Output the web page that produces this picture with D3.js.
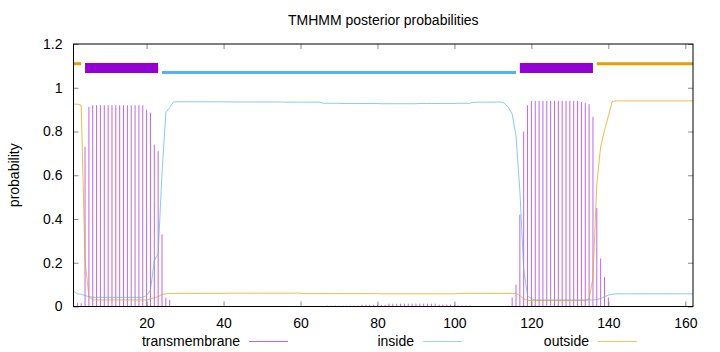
<!DOCTYPE html>
<html>
<head>
<meta charset="utf-8">
<script src="https://cdn.jsdelivr.net/npm/d3@7"></script>
<style>
  body { margin: 0; background: #fff; }
  svg { display: block; font-family: "Liberation Sans", Arial, sans-serif; }
</style>
</head>
<body>
<div id="chart"></div>
<script>
// posterior probabilities per residue (1..162)
const transmembrane = [
  0.012, 0.015, 0.015, 0.73, 0.912, 0.92, 0.92, 0.92, 0.92, 0.92,
  0.92, 0.92, 0.92, 0.92, 0.92, 0.92, 0.92, 0.92, 0.92, 0.90,
  0.886, 0.74, 0.71, 0.33, 0.04, 0.03, 0, 0, 0, 0,
  0, 0, 0, 0, 0, 0, 0, 0, 0, 0,
  0, 0, 0, 0, 0, 0, 0, 0, 0, 0,
  0, 0, 0, 0, 0, 0, 0, 0, 0, 0,
  0, 0.002, 0.002, 0.002, 0.002, 0.002, 0.004, 0.004, 0.004, 0.004,
  0.004, 0.004, 0.004, 0.004, 0.004, 0.008, 0.008, 0.008, 0.008, 0.008,
  0.008, 0.008, 0.013, 0.013, 0.013, 0.013, 0.013, 0.013, 0.013, 0.013,
  0.013, 0.013, 0.013, 0.013, 0.013, 0.009, 0.009, 0.009, 0.009, 0.009,
  0.005, 0.005, 0.005, 0.005, 0.002, 0, 0, 0, 0, 0,
  0, 0, 0, 0.004, 0.042, 0.10, 0.42, 0.80, 0.92, 0.94,
  0.94, 0.94, 0.94, 0.94, 0.94, 0.94, 0.94, 0.94, 0.94, 0.94,
  0.94, 0.94, 0.935, 0.93, 0.925, 0.867, 0.45, 0.22, 0.134, 0.042,
  0, 0, 0, 0, 0, 0, 0, 0, 0, 0,
  0, 0, 0, 0, 0, 0, 0, 0, 0, 0,
  0, 0
];
const inside = [
  0.07, 0.058, 0.056, 0.05, 0.045, 0.042, 0.042, 0.042, 0.042, 0.042,
  0.042, 0.042, 0.042, 0.042, 0.042, 0.042, 0.042, 0.042, 0.042, 0.05,
  0.075, 0.21, 0.24, 0.61, 0.886, 0.91, 0.935, 0.936, 0.936, 0.936,
  0.936, 0.936, 0.936, 0.936, 0.936, 0.936, 0.936, 0.936, 0.936, 0.936,
  0.935, 0.935, 0.935, 0.935, 0.935, 0.935, 0.935, 0.935, 0.935, 0.935,
  0.935, 0.935, 0.935, 0.935, 0.935, 0.934, 0.934, 0.934, 0.934, 0.934,
  0.934, 0.934, 0.934, 0.934, 0.934, 0.929, 0.929, 0.929, 0.929, 0.929,
  0.928, 0.928, 0.928, 0.928, 0.928, 0.928, 0.928, 0.928, 0.928, 0.928,
  0.927, 0.927, 0.927, 0.927, 0.927, 0.927, 0.927, 0.927, 0.927, 0.927,
  0.928, 0.928, 0.928, 0.928, 0.928, 0.928, 0.928, 0.928, 0.928, 0.928,
  0.929, 0.929, 0.929, 0.929, 0.934, 0.934, 0.934, 0.934, 0.934, 0.934,
  0.935, 0.935, 0.93, 0.91, 0.88, 0.78, 0.53, 0.17, 0.05, 0.035,
  0.03, 0.03, 0.03, 0.03, 0.03, 0.03, 0.03, 0.03, 0.03, 0.03,
  0.03, 0.03, 0.03, 0.03, 0.03, 0.03, 0.032, 0.036, 0.045, 0.052,
  0.056, 0.058, 0.058, 0.058, 0.058, 0.058, 0.058, 0.058, 0.058, 0.058,
  0.058, 0.058, 0.058, 0.058, 0.058, 0.058, 0.058, 0.058, 0.058, 0.058,
  0.058, 0.058
];
const outside = [
  0.925, 0.925, 0.92, 0.21, 0.045, 0.03, 0.03, 0.03, 0.03, 0.03,
  0.03, 0.03, 0.03, 0.03, 0.03, 0.03, 0.03, 0.03, 0.03, 0.03,
  0.035, 0.04, 0.045, 0.055, 0.058, 0.06, 0.06, 0.06, 0.06, 0.06,
  0.06, 0.06, 0.06, 0.06, 0.06, 0.06, 0.06, 0.06, 0.06, 0.06,
  0.061, 0.061, 0.061, 0.061, 0.061, 0.061, 0.061, 0.061, 0.061, 0.061,
  0.061, 0.061, 0.061, 0.061, 0.061, 0.061, 0.061, 0.061, 0.061, 0.061,
  0.059, 0.059, 0.059, 0.059, 0.059, 0.059, 0.059, 0.059, 0.059, 0.059,
  0.059, 0.059, 0.059, 0.059, 0.059, 0.059, 0.059, 0.059, 0.059, 0.059,
  0.058, 0.058, 0.058, 0.058, 0.058, 0.058, 0.058, 0.058, 0.058, 0.058,
  0.058, 0.058, 0.058, 0.058, 0.058, 0.058, 0.058, 0.058, 0.058, 0.058,
  0.06, 0.06, 0.06, 0.06, 0.06, 0.06, 0.06, 0.06, 0.06, 0.06,
  0.06, 0.06, 0.06, 0.06, 0.06, 0.06, 0.05, 0.035, 0.028, 0.027,
  0.027, 0.027, 0.027, 0.027, 0.027, 0.027, 0.027, 0.027, 0.027, 0.027,
  0.027, 0.027, 0.027, 0.027, 0.035, 0.13, 0.56, 0.73, 0.805, 0.87,
  0.937, 0.94, 0.94, 0.94, 0.94, 0.94, 0.94, 0.94, 0.94, 0.94,
  0.94, 0.94, 0.94, 0.94, 0.94, 0.94, 0.94, 0.94, 0.94, 0.94,
  0.94, 0.94
];

// predicted topology drawn as bars across the top
const segStart = [1, 4, 24, 117, 137];
const segEnd = [3, 23, 116, 136, 162];
const segType = ['outside', 'transmembrane', 'inside', 'transmembrane', 'outside'];

const xTicks = [20, 40, 60, 80, 100, 120, 140, 160];
const yTicks = [0, 0.2, 0.4, 0.6, 0.8, 1, 1.2];
const seriesNames = ['transmembrane', 'inside', 'outside'];

const colors = { transmembrane: '#9400d3', inside: '#56b4e9', outside: '#e69f00' };
const barLevel = { outside: 1.11, transmembrane: 1.09, inside: 1.07 };
const barWidth = { outside: 3, transmembrane: 10, inside: 3 };

const W = 720, H = 352;
const plot = { left: 73.5, right: 693, top: 44, bottom: 306.5 };

const svg = d3.select('#chart').append('svg')
    .attr('width', W)
    .attr('height', H);

const x = d3.scaleLinear().domain([1, 162]).range([plot.left, plot.right]);
const y = d3.scaleLinear().domain([0, 1.2]).range([plot.bottom, plot.top]);

const residues = d3.range(1, transmembrane.length + 1);

// transmembrane impulses
svg.append('g')
    .selectAll('line')
    .data(residues)
    .join('line')
    .attr('x1', r => x(r))
    .attr('x2', r => x(r))
    .attr('y1', y(0))
    .attr('y2', r => y(transmembrane[r - 1]))
    .attr('stroke', colors.transmembrane)
    .attr('stroke-width', 1)
    .attr('stroke-opacity', 0.6);

// inside / outside lines
const line = d3.line().x(d => x(d[0])).y(d => y(d[1]));
[['inside', inside], ['outside', outside]].forEach(([name, vals]) => {
    svg.append('path')
        .datum(residues.map(r => [r, vals[r - 1]]))
        .attr('d', line)
        .attr('fill', 'none')
        .attr('stroke', colors[name])
        .attr('stroke-width', 1)
        .attr('stroke-opacity', 0.7);
});

// topology bars
svg.append('g')
    .selectAll('line')
    .data(segStart.map((s, i) => ({ s, e: segEnd[i], t: segType[i] })))
    .join('line')
    .attr('x1', d => x(d.s))
    .attr('x2', d => x(d.e))
    .attr('y1', d => y(barLevel[d.t]))
    .attr('y2', d => y(barLevel[d.t]))
    .attr('stroke', d => colors[d.t])
    .attr('stroke-width', d => barWidth[d.t]);

// axes: gnuplot-style inward ticks, mirrored
const xAxisB = d3.axisBottom(x).tickValues(xTicks).tickSizeInner(-5).tickSizeOuter(0).tickPadding(12);
const xAxisT = d3.axisTop(x).tickValues(xTicks).tickSizeInner(-5).tickSizeOuter(0).tickFormat('');
const yAxisL = d3.axisLeft(y).tickValues(yTicks).tickSizeInner(-5).tickSizeOuter(0).tickPadding(11)
    .tickFormat(d => d3.format('~g')(d));
const yAxisR = d3.axisRight(y).tickValues(yTicks).tickSizeInner(-5).tickSizeOuter(0).tickFormat('');

const axes = [
    svg.append('g').attr('transform', `translate(0,${plot.bottom})`).call(xAxisB),
    svg.append('g').attr('transform', `translate(0,${plot.top})`).call(xAxisT),
    svg.append('g').attr('transform', `translate(${plot.left},0)`).call(yAxisL),
    svg.append('g').attr('transform', `translate(${plot.right},0)`).call(yAxisR)
];
axes.forEach(g => {
    g.select('.domain').remove();
    g.selectAll('line').attr('stroke', '#888');
    g.selectAll('text').attr('fill', '#000').style('font-size', '14px');
});

// border
svg.append('rect')
    .attr('x', plot.left).attr('y', plot.top)
    .attr('width', plot.right - plot.left).attr('height', plot.bottom - plot.top)
    .attr('fill', 'none')
    .attr('stroke', '#000')
    .attr('stroke-width', 1);

// title and axis label
svg.append('text')
    .attr('x', (plot.left + plot.right) / 2)
    .attr('y', 25)
    .attr('text-anchor', 'middle')
    .style('font-size', '14px')
    .text('TMHMM posterior probabilities');

svg.append('text')
    .attr('transform', `translate(19,${(plot.top + plot.bottom) / 2}) rotate(-90)`)
    .attr('text-anchor', 'middle')
    .style('font-size', '14px')
    .text('probability');

// legend
const legendTextRight = [240, 414, 589];
const legend = svg.append('g')
    .selectAll('g')
    .data(seriesNames)
    .join('g')
    .attr('transform', (d, i) => `translate(${legendTextRight[i]},341)`);
legend.append('text')
    .attr('text-anchor', 'end')
    .attr('y', 5)
    .style('font-size', '14px')
    .text(d => d);
legend.append('line')
    .attr('x1', 9).attr('x2', 48)
    .attr('y1', 0.5).attr('y2', 0.5)
    .attr('stroke', d => colors[d])
    .attr('stroke-opacity', 0.6);
</script>
</body>
</html>
